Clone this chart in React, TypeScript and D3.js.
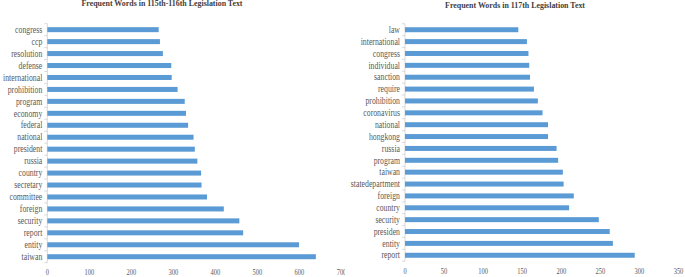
import React from "react";
import * as d3 from "d3";

const leftTitle = "Frequent Words in 115th-116th Legislation Text";
const leftWords = ["congress","ccp","resolution","defense","international","prohibition","program","economy","federal","national","president","russia","country","secretary","committee","foreign","security","report","entity","taiwan"];
const leftValues = [265,268,275,295,296,310,327,330,335,348,351,357,366,367,380,420,457,466,599,639];
const leftTicks = [0,100,200,300,400,500,600,700];

const rightTitle = "Frequent Words in 117th Legislation Text";
const rightWords = ["law","international","congress","individual","sanction","require","prohibition","coronavirus","national","hongkong","russia","program","taiwan","statedepartment","foreign","country","security","presiden","entity","report"];
const rightValues = [145,156,158,159,160,165,170,176,183,183,194,196,202,203,216,210,248,262,266,294];
const rightTicks = [0,50,100,150,200,250,300,350];

const FONT = "'Liberation Serif', 'Times New Roman', serif";

function SText({ x, y, anchor, size, fill, weight, sx, children }: any) {
  return (
    <text transform={`translate(${x},${y}) scale(${sx},1)`} textAnchor={anchor} fontSize={size} fill={fill} fontWeight={weight || "normal"} fontFamily={FONT}>
      {children}
    </text>
  );
}

function Panel({ title, words, values, ticks, domainMax, x0, x1, y0, y1, titleX, titleY, tickY }: any) {
  const x = d3.scaleLinear().domain([0, domainMax]).range([x0, x1]);
  const y = d3.scaleBand<string>().domain(words).range([y0, y1]).paddingInner(0.58).paddingOuter(0.29);
  const bands = d3.scaleBand<string>().domain(words).range([y0, y1]);
  const step = bands.step();
  return (
    <g>
      <SText x={titleX} y={titleY} anchor="middle" size={7.2} fill="#404040" weight="bold" sx={1.1}>{title}</SText>
      <line x1={x0} x2={x0} y1={y0} y2={y1} stroke="#d9d9d9" strokeWidth={1} />
      {d3.range(words.length + 1).map((i) => (
        <line key={"t" + i} x1={x0 - 3} x2={x0} y1={y0 + i * step} y2={y0 + i * step} stroke="#d9d9d9" strokeWidth={1} />
      ))}
      {words.map((w: string, i: number) => (
        <rect key={w + i} x={x0} y={y(w)!} width={x(values[i]) - x0} height={y.bandwidth()} fill="#5B9BD5" />
      ))}
      {words.map((w: string) => (
        <SText key={"l" + w} x={x0 - 5} y={bands(w)! + step / 2 + 3.2} anchor="end" size={9.5} fill="#595959" sx={0.82}>{w}</SText>
      ))}
      {ticks.map((t: number) => (
        <SText key={"x" + t} x={x(t)} y={tickY} anchor="middle" size={9} fill="#595959" sx={0.72}>{t}</SText>
      ))}
    </g>
  );
}

export default function App() {
  return (
    <svg width={685} height={277} style={{ position: "absolute", left: 0, top: 0, background: "#fff" }}>
      <defs>
        <clipPath id="leftClip"><rect x={0} y={0} width={345} height={277} /></clipPath>
      </defs>
      <rect width={685} height={277} fill="#fff" />
      <g clipPath="url(#leftClip)">
        <Panel title={leftTitle} words={leftWords} values={leftValues} ticks={leftTicks} domainMax={700}
          x0={47.3} x1={341.5} y0={23.7} y1={262.7} titleX={162} titleY={6.2} tickY={275} />
      </g>
      <Panel title={rightTitle} words={rightWords} values={rightValues} ticks={rightTicks} domainMax={350}
        x0={405} x1={678.5} y0={23.8} y1={261.2} titleX={515} titleY={8.4} tickY={274.3} />
    </svg>
  );
}
